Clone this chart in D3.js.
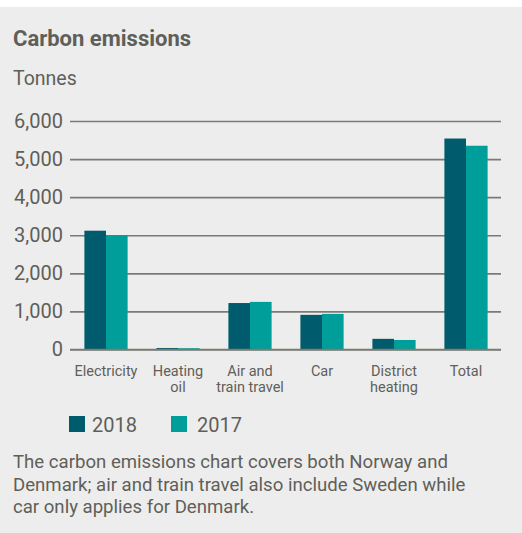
<!DOCTYPE html>
<html><head><meta charset="utf-8">
<script src="https://cdn.jsdelivr.net/npm/d3@7"></script>
<style>
html,body{margin:0;padding:0;background:#fff;}
svg{display:block;}
text{font-family:Roboto,"Noto Sans",sans-serif;fill:#5f5f59;}
</style></head>
<body>
<script>
const categories = ["Electricity","Heating\noil","Air and\ntrain travel","Car","District\nheating","Total"];
const series = ["2018","2017"];
const values2018 = [3120, 40, 1220, 910, 280, 5540];
const values2017 = [3000, 35, 1250, 935, 250, 5350];
const yTicks = [0,1000,2000,3000,4000,5000,6000];
const colors = ["#005b6d","#009e9a"];
const footer = ["The carbon emissions chart covers both Norway and",
  "Denmark; air and train travel also include Sweden while",
  "car only applies for Denmark."];

const W=522,H=533;
const svg=d3.select("body").append("svg").attr("width",W).attr("height",H);
svg.append("rect").attr("x",0).attr("y",7).attr("width",W).attr("height",H-7).attr("fill","#ededed");

svg.append("text").attr("x",13).attr("y",45.5).attr("font-size",22).attr("font-weight","bold").text("Carbon emissions");
svg.append("text").attr("x",13).attr("y",85).attr("font-size",19.5).text("Tonnes");

const y=d3.scaleLinear().domain([0,6000]).range([349.5,121]);
const x0=d3.scaleBand().domain(categories).range([70,502]).paddingInner(0.4).paddingOuter(0.2);
const x1=d3.scaleBand().domain(series).range([0,x0.bandwidth()]);

const data=categories.map((c,i)=>({c,vals:[values2018[i],values2017[i]]}));

// grid + labels
const yAxis=d3.axisLeft(y).tickValues(yTicks).tickFormat(d3.format(",")).tickSize(-431).tickPadding(7);
const gA=svg.append("g").attr("transform","translate(70,0)").call(yAxis);
gA.select(".domain").remove();
gA.selectAll(".tick line").attr("stroke","#7b7b75").attr("stroke-width",1.6);
gA.selectAll(".tick text").attr("font-size",20).attr("fill","#5f5f59").attr("font-family","Roboto").attr("dy","0.3em").attr("x",-7);

// bars
const g=svg.append("g");
const grp=g.selectAll("g.cat").data(data).join("g").attr("transform",d=>`translate(${x0(d.c)},0)`);
grp.selectAll("rect").data(d=>d.vals.map((v,i)=>({s:series[i],v,i}))).join("rect")
  .attr("x",d=>x1(d.s)).attr("width",x1.bandwidth())
  .attr("y",d=>y(d.v)).attr("height",d=>y(0)-y(d.v)).attr("fill",d=>colors[d.i]);
// redraw zero line on top
svg.append("line").attr("x1",70).attr("x2",501).attr("y1",y(0)).attr("y2",y(0)).attr("stroke","#7b7b75").attr("stroke-width",1.6);

// category labels
const xAxis=d3.axisBottom(x0).tickSize(0).tickFormat("");
const gX=svg.append("g").attr("transform",`translate(0,${y(0)})`).call(xAxis);
gX.select(".domain").remove();
gX.selectAll(".tick").each(function(d){
  const t=d3.select(this).append("text").attr("text-anchor","middle").attr("font-size",14.5).attr("fill","#5f5f59");
  d.split("\n").forEach((line,i)=>{
    t.append("tspan").attr("x",0).attr("y",26+i*16.5).text(line);
  });
});

// legend
const leg=[{x:69,tx:92},{x:171,tx:197}];
series.forEach((s,i)=>{
  svg.append("rect").attr("x",leg[i].x).attr("y",416).attr("width",16).attr("height",16).attr("fill",colors[i]);
  svg.append("text").attr("x",leg[i].tx).attr("y",432).attr("font-size",20).text(s);
});

footer.forEach((l,i)=>{
  svg.append("text").attr("x",13).attr("y",468+i*22.5).attr("font-size",18.6).text(l);
});
</script>
</body></html>
